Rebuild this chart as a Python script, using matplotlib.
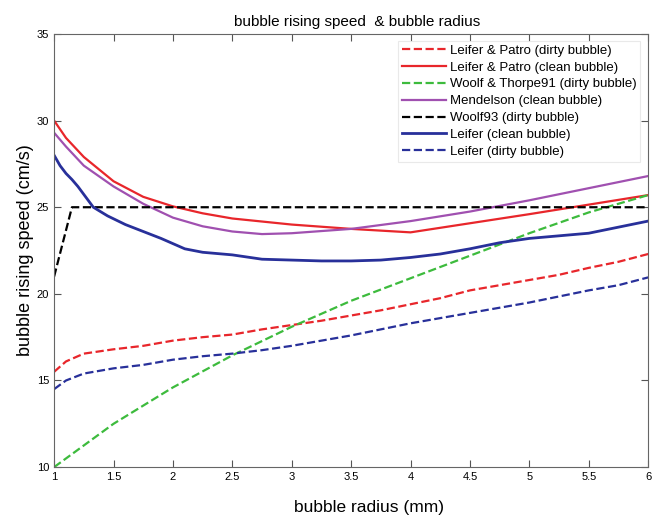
import matplotlib
matplotlib.use('Agg')
import matplotlib.pyplot as plt

plt.rcParams['font.family'] = ['Liberation Sans', 'DejaVu Sans']

# Leifer & Patro (dirty bubble)
x_lp_dirty = [1, 1.1, 1.25, 1.5, 1.75, 2, 2.25, 2.5, 2.75, 3, 3.25, 3.5, 3.75, 4, 4.25, 4.5, 4.75, 5, 5.25, 5.5, 5.75, 6]
y_lp_dirty = [15.5, 16.1, 16.55, 16.8, 17.0, 17.3, 17.5, 17.65, 17.95, 18.2, 18.45, 18.75, 19.05, 19.4, 19.75, 20.2, 20.5, 20.8, 21.1, 21.5, 21.85, 22.3]

# Leifer & Patro (clean bubble)
x_lp_clean = [1, 1.1, 1.25, 1.5, 1.75, 2, 2.25, 2.5, 3, 3.5, 4, 5, 6]
y_lp_clean = [30.0, 29.0, 27.9, 26.5, 25.6, 25.05, 24.65, 24.35, 24.0, 23.75, 23.55, 24.6, 25.7]

# Woolf & Thorpe91 (dirty bubble)
x_wt = [1, 1.5, 2, 2.5, 3, 3.5, 4, 4.5, 5, 5.5, 6]
y_wt = [10.0, 12.5, 14.6, 16.45, 18.1, 19.6, 20.9, 22.2, 23.5, 24.7, 25.7]

# Mendelson (clean bubble)
x_mend = [1, 1.1, 1.25, 1.5, 1.75, 2, 2.25, 2.5, 2.75, 3, 3.5, 4, 4.5, 5, 5.5, 6]
y_mend = [29.3, 28.5, 27.4, 26.2, 25.2, 24.4, 23.9, 23.6, 23.45, 23.5, 23.75, 24.2, 24.75, 25.4, 26.1, 26.8]

# Woolf93 (dirty bubble)
x_woolf93 = [1, 1.15, 6]
y_woolf93 = [21.0, 25.0, 25.0]

# Leifer (clean bubble)
x_lf_clean = [1, 1.05, 1.1, 1.15, 1.2, 1.33, 1.45, 1.6, 1.75, 1.9, 2.0, 2.1, 2.25, 2.5, 2.75, 3, 3.25, 3.5,
              3.75, 4, 4.25, 4.5, 4.75, 5, 5.25, 5.5, 5.75, 6]
y_lf_clean = [28.0, 27.4, 26.95, 26.6, 26.2, 25.0, 24.5, 24.0, 23.6, 23.2, 22.9, 22.6, 22.4, 22.25, 22.0, 21.95, 21.9, 21.9,
              21.95, 22.1, 22.3, 22.6, 22.95, 23.2, 23.35, 23.5, 23.85, 24.2]

# Leifer (dirty bubble)
x_lf_dirty = [1, 1.1, 1.25, 1.5, 1.75, 2, 2.25, 2.5, 2.75, 3, 3.25, 3.5, 3.75, 4, 4.25, 4.5, 4.75, 5, 5.25, 5.5, 5.75, 6]
y_lf_dirty = [14.5, 15.0, 15.4, 15.7, 15.9, 16.2, 16.4, 16.55, 16.75, 17.0, 17.3, 17.6, 17.95, 18.3, 18.6, 18.9, 19.2, 19.5, 19.85, 20.2, 20.5, 20.95]

fig = plt.figure(figsize=(6.6, 5.15), dpi=100)
ax = fig.add_axes([0.082, 0.093, 0.9, 0.841])

red = '#e8262b'
ax.plot(x_lp_dirty, y_lp_dirty, '--', color=red, lw=1.6, label='Leifer & Patro (dirty bubble)')
ax.plot(x_lp_clean, y_lp_clean, '-', color=red, lw=1.6, label='Leifer & Patro (clean bubble)')
ax.plot(x_wt, y_wt, '--', color='#3dbb3d', lw=1.6, label='Woolf & Thorpe91 (dirty bubble)')
ax.plot(x_mend, y_mend, '-', color='#a050b0', lw=1.6, label='Mendelson (clean bubble)')
ax.plot(x_woolf93, y_woolf93, '--', color='black', lw=1.6, label='Woolf93 (dirty bubble)')
ax.plot(x_lf_clean, y_lf_clean, '-', color='#28309a', lw=2.0, label='Leifer (clean bubble)')
ax.plot(x_lf_dirty, y_lf_dirty, '--', color='#28309a', lw=1.6, label='Leifer (dirty bubble)')

ax.set_xlim(1, 6)
ax.set_ylim(10, 35)
ax.set_xticks([1, 1.5, 2, 2.5, 3, 3.5, 4, 4.5, 5, 5.5, 6])
ax.set_xticklabels(['1', '1.5', '2', '2.5', '3', '3.5', '4', '4.5', '5', '5.5', '6'])
ax.set_yticks([10, 15, 20, 25, 30, 35])
ax.tick_params(direction='in', top=True, right=True, labelsize=8, length=5, color='#555555')
for s in ax.spines.values():
    s.set_color('#666666')

ax.set_title('bubble rising speed  & bubble radius', fontsize=11, pad=6, x=0.51)
ax.set_xlabel('bubble radius (mm)', fontsize=12.5, labelpad=12)
ax.xaxis.set_label_coords(0.53, -0.075)
ax.set_ylabel('bubble rising speed (cm/s)', fontsize=13, labelpad=2)

leg = ax.legend(loc='upper right', fontsize=9.5, frameon=True, fancybox=False,
                handlelength=3.3, handletextpad=0.3, labelspacing=0.35, borderpad=0.3,
                bbox_to_anchor=(0.998, 1.0))
leg.get_frame().set_edgecolor('#e4e4e4')
leg.get_frame().set_linewidth(0.8)

fig.savefig('out.png', dpi=100)
